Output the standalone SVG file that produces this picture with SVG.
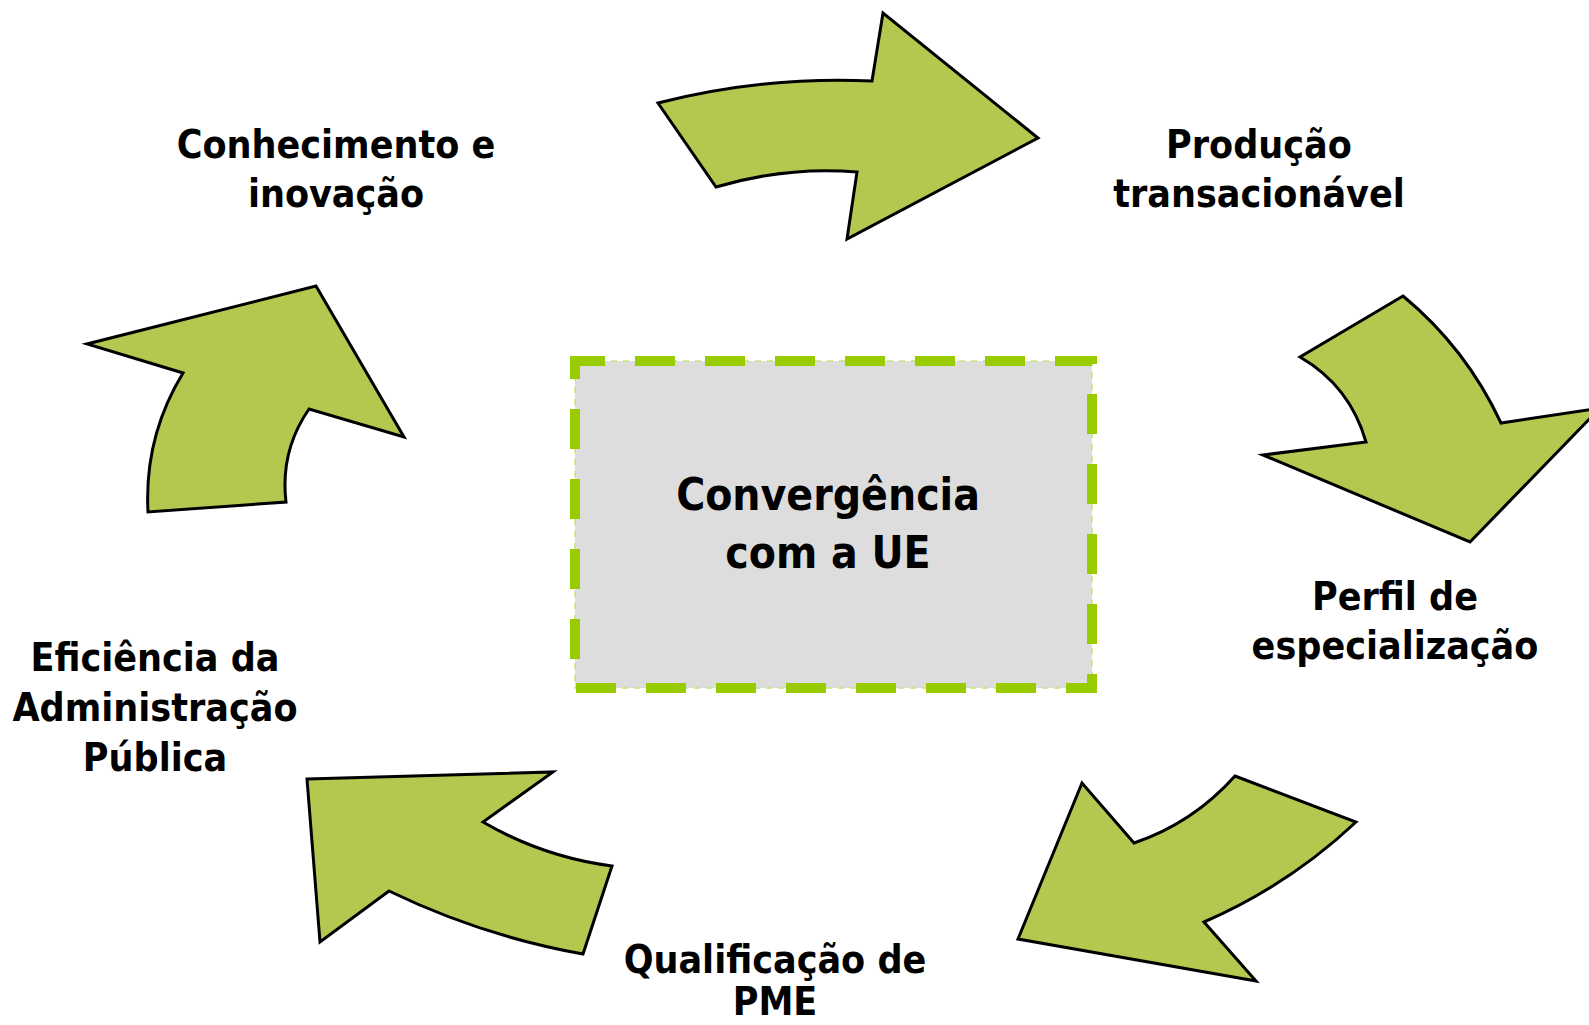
<svg xmlns="http://www.w3.org/2000/svg" width="1589" height="1025" viewBox="0 0 1589 1025">
<style>
.arrow{fill:#b2c84e;stroke:#000;stroke-width:3;stroke-linejoin:miter}
.lbl{font-family:"DejaVu Sans Condensed","DejaVu Sans",sans-serif;font-stretch:condensed;font-weight:bold;font-size:39px;fill:#000;text-anchor:middle}
.ctr{font-size:44px}
</style>
<rect width="1589" height="1025" fill="#fff"/>
<g id="connectors">
<path id="arrow-top" class="arrow" d="M658,103 Q765,76 872,81 L883,13 L1038,138 L847,239 L857,172 Q787,166 716,187 Z"/>
<path id="arrow-right" class="arrow" d="M1403,296 Q1466,348 1501,423 L1600,408 L1470,542 L1263,455 L1366,442 Q1350,386 1300,357 Z"/>
<path id="arrow-bottom-right" class="arrow" d="M1235,776 L1356,822 Q1289,885 1204,922 L1256,981 L1018,939 L1082,783 L1134,843 Q1193,823 1235,776 Z"/>
<path id="arrow-bottom-left" class="arrow" d="M307,779 L553,772 L483,822 Q543,857 612,866 L583,954 Q482,936 389,891 L320,942 Z"/>
<path id="arrow-left" class="arrow" d="M316,286 L404,437 L309,409 Q280,451 286,502 L148,512 Q144,437 183,373 L87,344 Z"/>
</g>
<g id="node-center">
<rect x="575" y="361" width="517" height="327" fill="#dddddd" stroke="#c8e27e" stroke-width="1.5" stroke-dasharray="6 6"/>
<rect x="575" y="361" width="517" height="327" fill="none" stroke="#99cc00" stroke-width="10" stroke-dasharray="40 30" stroke-dashoffset="10"/>
<text class="lbl ctr" x="828" y="510">Convergência</text>
<text class="lbl ctr" x="828" y="568">com a UE</text>
</g>
<g id="node-conhecimento">
<text class="lbl" x="336" y="158">Conhecimento e</text>
<text class="lbl" x="336" y="207">inovação</text>
</g>
<g id="node-producao">
<text class="lbl" x="1259" y="158">Produção</text>
<text class="lbl" x="1259" y="207">transacionável</text>
</g>
<g id="node-perfil">
<text class="lbl" x="1395" y="610">Perfil de</text>
<text class="lbl" x="1395" y="659">especialização</text>
</g>
<g id="node-qualificacao">
<text class="lbl" x="775" y="973">Qualificação de</text>
<text class="lbl" x="775" y="1015">PME</text>
</g>
<g id="node-eficiencia">
<text class="lbl" x="155" y="671">Eficiência da</text>
<text class="lbl" x="155" y="721">Administração</text>
<text class="lbl" x="155" y="771">Pública</text>
</g>
</svg>
